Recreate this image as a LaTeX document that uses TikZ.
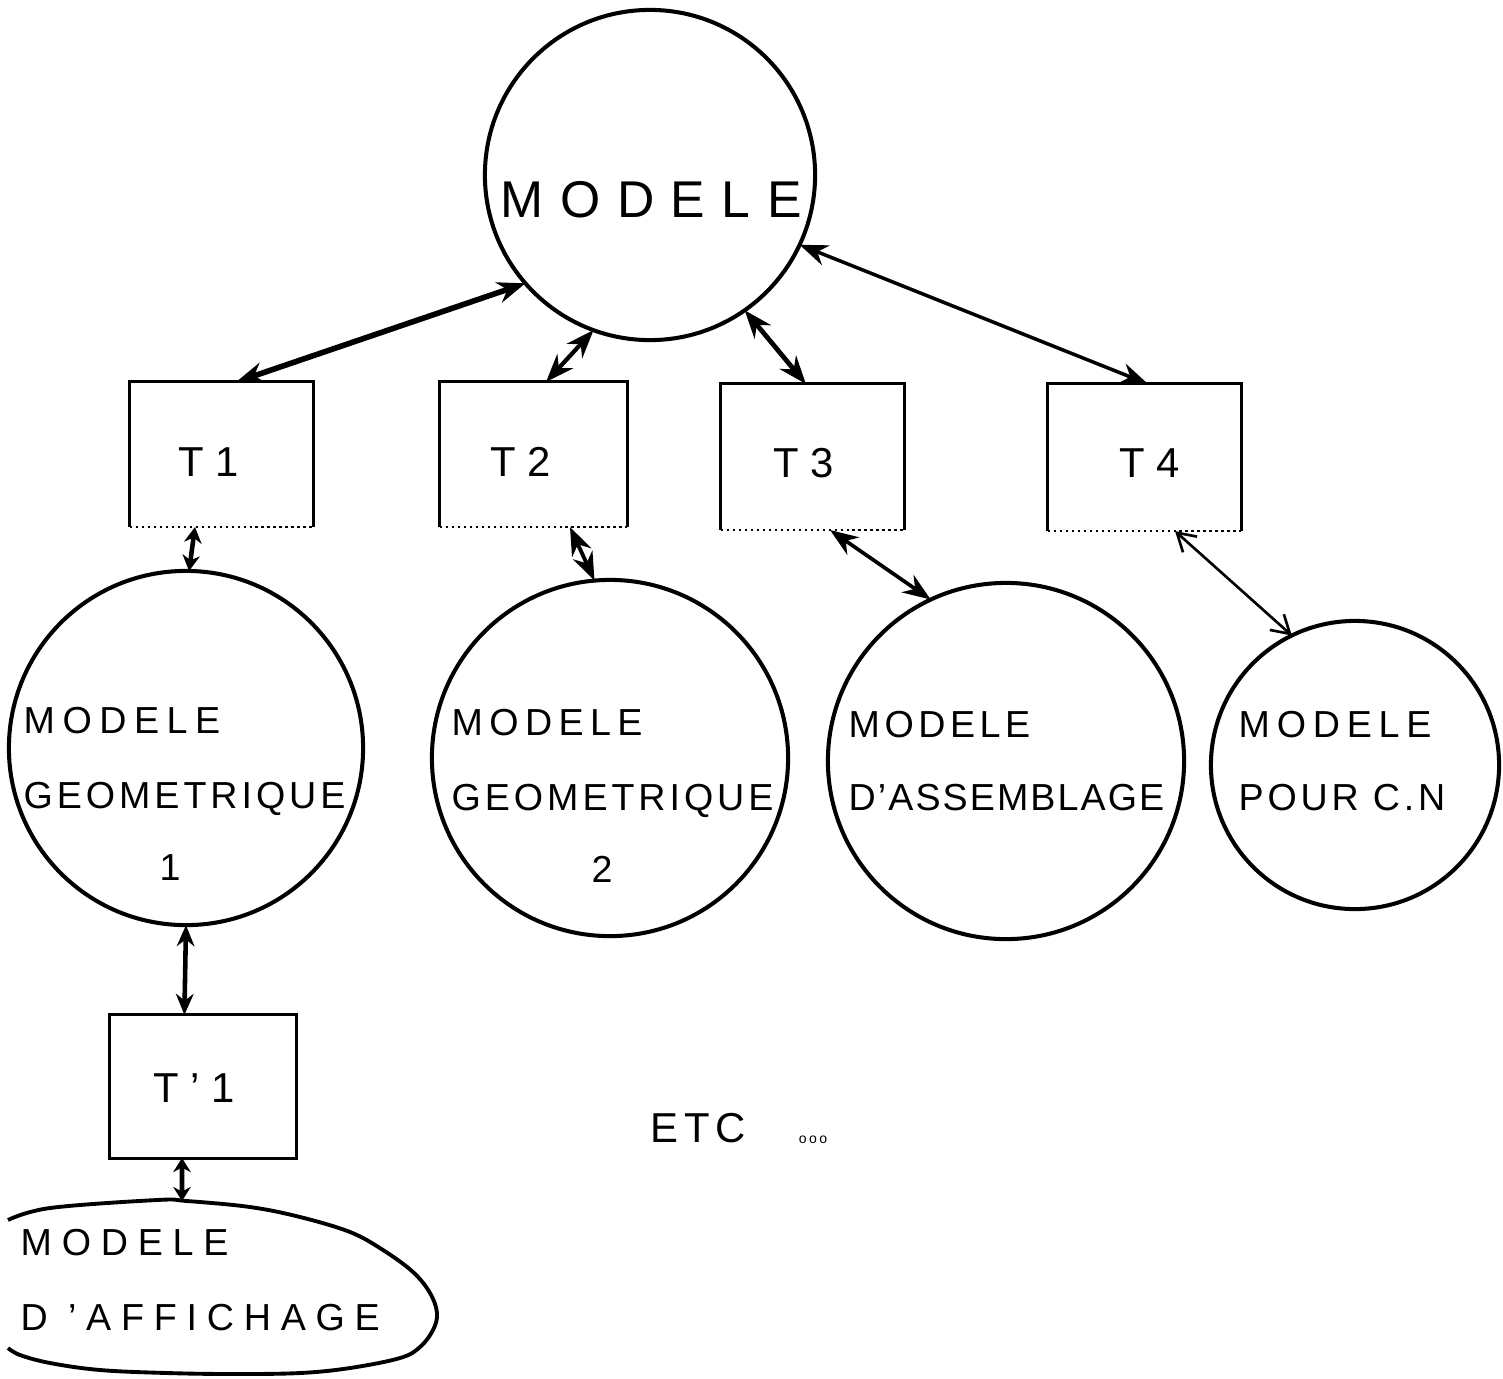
\documentclass[tikz,border=0pt]{standalone}
\usepackage{fontspec}
\setmainfont{Liberation Sans}
\usetikzlibrary{arrows.meta,calc}
\newcommand\lsp[2]{{\addfontfeature{LetterSpace=#1}#2}}
\newcommand\tboxdraw[1]{%
  \draw[line width=0.85pt] (#1.south west) -- (#1.north west) -- (#1.north east) -- (#1.south east);
  \draw[line width=0.7pt,densely dotted] (#1.south west) -- (#1.south east);}
\begin{document}
\begin{tikzpicture}[x=0.01cm,y=-0.01cm,
  bubble/.style={circle,draw,line width=1.15pt,inner sep=0pt,outer sep=0pt},
  tbox/.style={rectangle,inner sep=0pt,outer sep=0pt},
  bigtxt/.style={font=\fontsize{14.7}{17}\selectfont,inner sep=0pt,anchor=base west},
  smalltxt/.style={font=\fontsize{10.7}{13}\selectfont,inner sep=0pt,anchor=base west},
  boxtxt/.style={font=\fontsize{11.9}{14}\selectfont,inner sep=0pt,anchor=base},
  link/.style={line width=1.2pt,{Stealth[length=8pt,width=6pt]}-{Stealth[length=8pt,width=6pt]}},
  shortlink/.style={line width=1.3pt,{Stealth[length=4.5pt,width=5pt]}-{Stealth[length=4.5pt,width=5pt]}},
  thinlink/.style={line width=0.75pt,{Straight Barb[length=5pt,width=6pt]}-{Straight Barb[length=5pt,width=6pt]}},
 ]
\useasboundingbox (0,0) rectangle (1503,1378);

% circles
\node[bubble,minimum size=3.3cm] (M) at (650,175) {};
\node[bubble,minimum size=3.54cm] (MG1) at (186,748) {};
\node[bubble,minimum size=3.56cm] (MG2) at (610,758) {};
\node[bubble,minimum size=3.56cm] (MA) at (1006,761) {};
\node[bubble,minimum size=2.88cm] (CN) at (1355,765) {};

% circle texts
\node[bigtxt] (Mt) at (500,217) {\lsp{32}{MODELE}};
\node[smalltxt] (MG1a) at (23,733) {\lsp{20}{MODELE}};
\node[smalltxt] (MG1b) at (23,808) {\lsp{10.5}{GEOMETRIQUE}};
\node[smalltxt,anchor=base] (MG1c) at (170,880) {1};
\node[smalltxt] (MG2a) at (451,735) {\lsp{17}{MODELE}};
\node[smalltxt] (MG2b) at (451,810) {\lsp{10.5}{GEOMETRIQUE}};
\node[smalltxt,anchor=base] (MG2c) at (602,882) {2};
\node[smalltxt] (MAa) at (848,737) {\lsp{12}{MODELE}};
\node[smalltxt] (MAb) at (848,810) {\lsp{5.5}{D'ASSEMBLAGE}};
\node[smalltxt] (CNa) at (1238,737) {\lsp{18}{MODELE}};
\node[smalltxt] (CNb) at (1238,810) {\lsp{10}{POUR C.N}};

% boxes
\node[tbox,minimum width=1.83cm,minimum height=1.45cm] (T1) at (221.5,454.5) {};
\node[tbox,minimum width=1.87cm,minimum height=1.45cm] (T2) at (533.5,454.5) {};
\node[tbox,minimum width=1.83cm,minimum height=1.46cm] (T3) at (812.5,457) {};
\node[tbox,minimum width=1.93cm,minimum height=1.47cm] (T4) at (1144.5,457.5) {};
\node[tbox,minimum width=1.86cm,minimum height=1.43cm] (Tp1) at (203,1086.5) {};
\tboxdraw{T1}
\tboxdraw{T2}
\tboxdraw{T3}
\tboxdraw{T4}
\draw[line width=0.85pt] (Tp1.south west) rectangle (Tp1.north east);

\node[boxtxt] (T1t) at (209,476) {T 1};
\node[boxtxt] (T2t) at (521,476) {T 2};
\node[boxtxt] (T3t) at (804,477) {T 3};
\node[boxtxt] (T4t) at (1150,477) {T 4};
\node[boxtxt] (Tp1t) at (194,1102) {T ' 1};

% affichage blob
\draw[line width=1.1pt] plot[smooth,tension=0.6] coordinates {(8,1220) (50,1208) (157,1200) (187,1201) (250,1207) (300,1217) (350,1232) (383,1250) (413,1272) (430,1293) (437,1313) (433,1330) (420,1347) (400,1358) (350,1368) (300,1373) (233,1374) (167,1373) (100,1370) (50,1363) (20,1355) (8,1348)};
\coordinate (afftop) at (182,1201);
\node[smalltxt] (Affa) at (20,1255) {\lsp{26}{MODELE}};
\node[smalltxt] (Affb) at (20,1330) {\lsp{26}{D 'AFFICHAGE}};

% etc
\node[boxtxt,anchor=base west] (etc) at (650,1142) {\lsp{13}{ETC}};
\node[inner sep=0pt,font=\fontsize{4}{5}\selectfont] (dots) at (813,1140) {o\,o\,o};

% connectors
\draw[link,line width=1.6pt] (M.-139.8) -- ($(T1.north west)!0.58!(T1.north east)$);
\draw[link] (M.-110.5) -- ($(T2.north west)!0.567!(T2.north east)$);
\draw[link,line width=1.35pt] (M.-55.7) -- ($(T3.north west)!0.464!(T3.north east)$);
\draw[link,line width=1.0pt] (M.-25) -- ($(T4.north west)!0.518!(T4.north east)$);
\draw[shortlink] ($(T1.south west)!0.355!(T1.south east)$) -- (MG1.89);
\draw[link,line width=1.1pt] ($(T2.south west)!0.695!(T2.south east)$) -- (MG2.95.5);
\draw[link,line width=1.05pt] ($(T3.south west)!0.596!(T3.south east)$) -- (MA.115);
\draw[thinlink] ($(T4.south west)!0.658!(T4.south east)$) -- (CN.116);
\draw[link,line width=1.3pt,{Stealth[length=6pt,width=5pt]}-{Stealth[length=6pt,width=5pt]}] (MG1.-90) -- ($(Tp1.north west)!0.40!(Tp1.north east)$);
\draw[shortlink,{Stealth[length=4pt,width=5pt]}-{Stealth[length=4pt,width=5pt]}] ($(Tp1.south west)!0.387!(Tp1.south east)$) -- (afftop);
\end{tikzpicture}
\end{document}
